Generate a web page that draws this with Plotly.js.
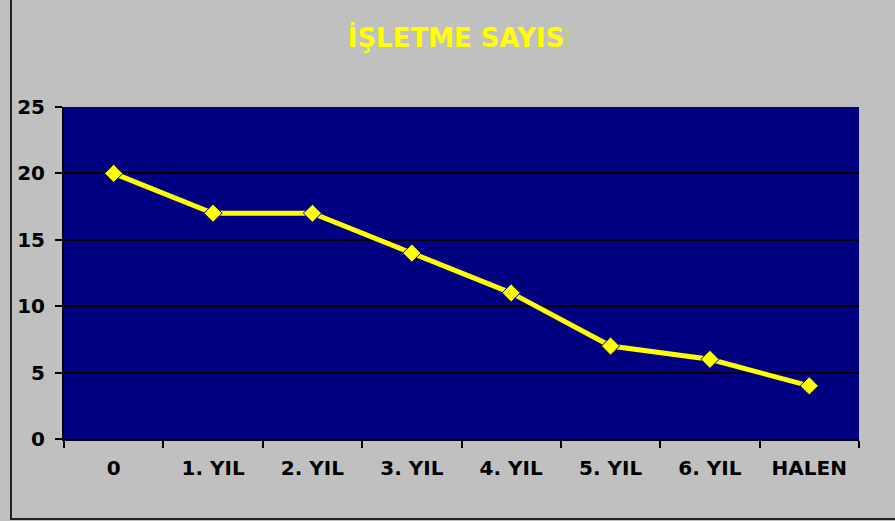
<!DOCTYPE html>
<html>
<head>
<meta charset="utf-8">
<script src="https://cdn.plot.ly/plotly-3.0.1.min.js"></script>
<style>html,body{margin:0;padding:0;background:#c0c0c0;}#chart{width:895px;height:521px;}</style>
</head>
<body>
<div id="chart"></div>
<script>
const categories = ["0", "1. YIL", "2. YIL", "3. YIL", "4. YIL", "5. YIL", "6. YIL", "HALEN"];
const isletmeSayisi = [20, 17, 17, 14, 11, 7, 6, 4];
const yTickVals = [0, 5, 10, 15, 20, 25];
const chartTitle = "İŞLETME SAYISI";

const fam = "DejaVu Sans, Verdana, sans-serif";

const trace = {
  x: categories,
  y: isletmeSayisi,
  type: "scatter",
  mode: "lines+markers",
  line: {color: "#ffff00", width: 5},
  marker: {symbol: "diamond", size: 14, color: "#ffff00", line: {color: "#000080", width: 1}},
  hoverinfo: "skip"
};

const layout = {
  width: 895, height: 521,
  margin: {l: 64, r: 36, t: 107, b: 82},
  paper_bgcolor: "#c0c0c0",
  plot_bgcolor: "#000080",
  showlegend: false,
  font: {family: fam, size: 18, color: "#000000", weight: "bold"},
  title: {
    text: "<b>" + chartTitle + "</b>",
    font: {family: fam, size: 26, color: "#ffff00", weight: "bold"},
    x: 0.515, xanchor: "center",
    y: 0.928, yanchor: "middle"
  },
  xaxis: {
    type: "category",
    range: [-0.5, 7.5],
    tickson: "boundaries",
    ticks: "outside",
    ticklen: 7,
    tickwidth: 2,
    tickcolor: "#000000",
    showline: true,
    linecolor: "#000000",
    linewidth: 2,
    showgrid: false,
    tickfont: {family: fam, size: 20, color: "#000000", weight: "bold"},
    ticklabelstandoff: 10,
    fixedrange: true
  },
  yaxis: {
    range: [0, 25],
    tickmode: "array",
    tickvals: yTickVals,
    ticks: "outside",
    ticklen: 7,
    tickwidth: 2,
    tickcolor: "#000000",
    showline: true,
    linecolor: "#000000",
    linewidth: 2,
    showgrid: true,
    gridcolor: "#000000",
    gridwidth: 2,
    zeroline: false,
    tickfont: {family: fam, size: 20, color: "#000000", weight: "bold"},
    ticklabelstandoff: 6,
    fixedrange: true
  },
  shapes: [{
    type: "rect", xref: "paper", yref: "paper",
    x0: -0.0667, x1: 1.2, y0: -0.241, y1: 1.5,
    line: {color: "#202020", width: 2},
    layer: "below"
  }]
};

Plotly.newPlot("chart", [trace], layout, {displayModeBar: false, staticPlot: true}).then(function () {
  // The original title is clipped on its right side just after "SAYIS"
  const t = document.querySelector(".gtitle");
  if (t) {
    const bb = t.getBBox();
    const clipRight = 567;
    const cut = Math.max(0, bb.x + bb.width - clipRight);
    t.style.clipPath = "inset(-20px " + cut + "px -20px -20px)";
  }
});
</script>
</body>
</html>
